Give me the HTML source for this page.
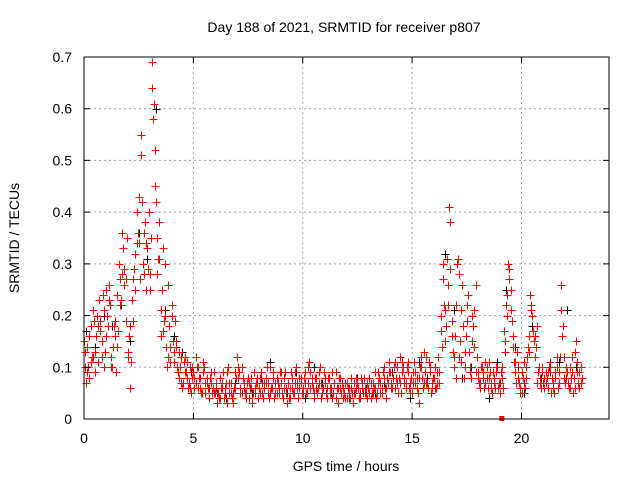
<!DOCTYPE html>
<html><head><meta charset="utf-8">
<style>
html,body{margin:0;padding:0;background:#fff;}
svg{display:block;font-family:"Liberation Sans",sans-serif;}
</style></head>
<body>
<svg id="chart" width="640" height="480" viewBox="0 0 640 480" xmlns="http://www.w3.org/2000/svg">
<rect width="640" height="480" fill="#fff"/>
<g id="grid"></g>
<g id="black"></g>
<g id="red"></g>
<rect x="84" y="57" width="525" height="362" fill="none" stroke="#000" stroke-width="1"/>
<g id="ticks"></g>
<text x="344" y="32" text-anchor="middle" font-size="14">Day 188 of 2021, SRMTID for receiver p807</text>
<text x="346" y="471" text-anchor="middle" font-size="14">GPS time / hours</text>
<text transform="translate(19,238) rotate(-90)" text-anchor="middle" font-size="14">SRMTID / TECUs</text>
</svg>
<script>
const xTicks=[0,5,10,15,20];
const yTicks=[0,0.1,0.2,0.3,0.4,0.5,0.6,0.7];
const yTickLabels=["0","0.1","0.2","0.3","0.4","0.5","0.6","0.7"];
const stepA=0.1;
const redA=[0.15,0.07,0.10,0.18,0.12,0.09,0.20,0.23,0.15,0.10,
0.25,0.18,0.22,0.10,0.16,0.14,0.30,0.23,0.33,0.27,
0.12,0.06,0.23,0.29,0.34,0.43,0.51,0.30,0.38,0.33,
0.28,0.69,0.61,0.42,0.31,0.16,0.33,0.20,0.10,0.18,
0.22,0.13,0.15,0.09,0.10,0.06,0.12,0.08,0.07,0.05,
0.09,0.12,0.06,0.08,0.05,0.10,0.07,0.04,0.09,0.06,
0.05,0.03,0.08,0.06,0.04,0.07,0.10,0.05,0.03,0.06,
0.12,0.09,0.05,0.07,0.04,0.08,0.06,0.03,0.05,0.07,
0.06,0.09,0.04,0.07,0.05,0.10,0.06,0.04,0.08,0.05,
0.07,0.04,0.09,0.03,0.06,0.08,0.05,0.10,0.04,0.07,
0.06,0.09,0.05,0.11,0.07,0.04,0.08,0.06,0.10,0.05,
0.07,0.04,0.08,0.06,0.05,0.09,0.03,0.06,0.07,0.05,
0.04,0.06,0.08,0.03,0.05,0.07,0.04,0.06,0.08,0.05,
0.06,0.04,0.07,0.09,0.05,0.08,0.06,0.10,0.04,0.07,
0.09,0.06,0.11,0.07,0.08,0.05,0.10,0.06,0.09,0.07,
0.05,0.11,0.08,0.03,0.12,0.06,0.09,0.07,0.10,0.06,
0.08,0.06,0.12,0.20,0.27,0.15,0.31,0.41,0.19,0.12,
0.08,0.31,0.15,0.26,0.10,0.19,0.13,0.08,0.18,0.26,
0.09,0.07,0.10,0.06,0.08,0.11,0.07,0.09,0.06,0.10,
0.05,0.08,0.17,0.22,0.30,0.25,0.16,0.09,0.13,0.07,
0.05,0.11,0.08,0.14,0.24,0.20,0.12,0.18,0.10,0.06,
0.07,0.09,0.06,0.11,0.08,0.05,0.10,0.07,0.26,0.18,
0.07,0.09,0.06,0.12,0.08,0.15,0.07,0.10];
const redB=[0.10,0.14,0.08,0.12,0.19,0.16,0.11,0.17,0.24,0.13,
0.20,0.26,0.12,0.18,0.09,0.17,0.22,0.28,0.26,0.35,
0.16,0.11,0.19,0.25,0.36,0.27,0.42,0.36,0.25,0.40,
0.35,0.58,0.52,0.28,0.38,0.25,0.19,0.14,0.26,0.11,
0.15,0.19,0.10,0.13,0.07,0.11,0.09,0.06,0.10,0.08,
0.06,0.10,0.08,0.05,0.11,0.07,0.06,0.08,0.05,0.09,
0.07,0.04,0.06,0.09,0.05,0.03,0.07,0.04,0.06,0.08,
0.10,0.06,0.08,0.05,0.07,0.04,0.06,0.09,0.07,0.04,
0.08,0.05,0.07,0.10,0.04,0.06,0.08,0.05,0.07,0.09,
0.05,0.08,0.06,0.04,0.09,0.05,0.07,0.06,0.08,0.05,
0.08,0.05,0.07,0.09,0.06,0.08,0.05,0.07,0.04,0.09,
0.05,0.08,0.06,0.04,0.07,0.06,0.08,0.05,0.04,0.07,
0.06,0.04,0.05,0.07,0.06,0.04,0.08,0.05,0.06,0.04,
0.08,0.05,0.06,0.04,0.07,0.05,0.09,0.06,0.08,0.11,
0.06,0.10,0.08,0.05,0.12,0.09,0.07,0.10,0.06,0.08,
0.09,0.07,0.05,0.10,0.08,0.13,0.07,0.11,0.05,0.08,
0.06,0.09,0.07,0.14,0.22,0.18,0.26,0.38,0.13,0.16,
0.30,0.12,0.21,0.08,0.16,0.24,0.10,0.15,0.21,0.12,
0.07,0.10,0.08,0.11,0.06,0.09,0.05,0.08,0.10,0.07,
0.09,0.06,0.13,0.20,0.27,0.19,0.11,0.07,0.10,0.05,
0.08,0.06,0.12,0.16,0.22,0.15,0.14,0.09,0.07,0.10,
0.06,0.08,0.10,0.05,0.07,0.09,0.06,0.12,0.16,0.08,
0.10,0.06,0.08,0.05,0.13,0.09,0.06,0.08];
const redC=[0.13,0.09,0.16,0.11,0.21,0.13,0.18,0.19,0.12,0.21,
0.16,0.23,0.10,0.14,0.19,0.24,0.27,0.36,0.29,0.19,
0.13,0.18,0.27,0.32,0.40,0.34,0.55,0.28,0.34,0.29,
0.25,0.64,0.45,0.35,0.31,0.21,0.17,0.30,0.12,0.14,
0.20,0.11,0.14,0.08,0.12,0.07,0.09,0.11,0.06,0.10,
0.08,0.07,0.10,0.06,0.09,0.05,0.08,0.06,0.07,0.05,
0.06,0.05,0.04,0.07,0.06,0.09,0.05,0.07,0.05,0.09,
0.08,0.05,0.10,0.06,0.05,0.07,0.08,0.05,0.06,0.08,
0.05,0.07,0.06,0.08,0.07,0.05,0.09,0.07,0.05,0.06,
0.09,0.06,0.05,0.07,0.04,0.06,0.09,0.07,0.06,0.08,
0.05,0.07,0.10,0.06,0.08,0.05,0.06,0.09,0.07,0.06,
0.08,0.06,0.05,0.09,0.07,0.04,0.06,0.08,0.06,0.04,
0.07,0.05,0.06,0.05,0.08,0.06,0.05,0.07,0.05,0.07,
0.05,0.07,0.05,0.06,0.09,0.07,0.05,0.08,0.06,0.09,
0.07,0.08,0.06,0.10,0.07,0.11,0.08,0.07,0.11,0.05,
0.07,0.09,0.06,0.08,0.10,0.07,0.12,0.06,0.09,0.07,
0.10,0.07,0.09,0.17,0.30,0.21,0.22,0.29,0.16,0.10,
0.22,0.28,0.11,0.18,0.13,0.22,0.09,0.20,0.14,0.09,
0.08,0.06,0.09,0.07,0.10,0.08,0.06,0.07,0.09,0.06,
0.07,0.10,0.15,0.24,0.29,0.21,0.14,0.11,0.08,0.06,
0.09,0.07,0.10,0.13,0.21,0.17,0.16,0.07,0.08,0.09,
0.08,0.07,0.09,0.10,0.06,0.08,0.12,0.09,0.21,0.12,
0.08,0.07,0.10,0.09,0.06,0.11,0.09,0.07];
const stepK=0.4;
const black=[0.17,0.14,0.20,0.18,0.22,0.15,0.36,0.31,0.60,0.21,
0.16,0.13,0.09,0.08,0.06,0.05,0.04,0.07,0.06,0.05,
0.08,0.11,0.06,0.05,0.09,0.04,0.10,0.07,0.05,0.06,
0.04,0.08,0.06,0.05,0.07,0.09,0.05,0.04,0.11,0.08,
0.06,0.32,0.21,0.08,0.10,0.07,0.04,0.11,0.25,0.14,
0.05,0.18,0.08,0.09,0.11,0.21,0.10];
const flagHours=[19.1];

const X0=84,X1=609,Y0=419,Y1=57,XMAX=24,YMAX=0.7;
const xs=v=>X0+v/XMAX*(X1-X0);
const ys=v=>Y0-v/YMAX*(Y0-Y1);
const NS="http://www.w3.org/2000/svg";
function mk(tag,parent){const e=document.createElementNS(NS,tag);parent.appendChild(e);return e;}

const grid=document.getElementById('grid'),ticks=document.getElementById('ticks');
xTicks.forEach(t=>{
  const x=xs(t);
  if(t>0){const l=mk('line',grid);
    
    
    l.setAttribute('x1',x);l.setAttribute('x2',x);l.setAttribute('y1',Y1);l.setAttribute('y2',Y0);
    l.setAttribute('stroke','#a0a0a0');l.setAttribute('stroke-dasharray','2,3');}
  const tk=mk('path',ticks);
  
  
  tk.setAttribute('d',`M${x},${Y0}v-6M${x},${Y1}v6`);tk.setAttribute('stroke','#000');
  const tx=mk('text',ticks);
  
  
  tx.setAttribute('x',x);tx.setAttribute('y',443);tx.setAttribute('text-anchor','middle');tx.setAttribute('font-size','14');
  tx.textContent=String(t);
});
yTicks.forEach((t,i)=>{
  const y=ys(t);
  if(t>0&&t<YMAX){const l=mk('line',grid);
    
    
    l.setAttribute('x1',X0);l.setAttribute('x2',X1);l.setAttribute('y1',y);l.setAttribute('y2',y);
    l.setAttribute('stroke','#a0a0a0');l.setAttribute('stroke-dasharray','2,3');}
  const tk=mk('path',ticks);
  
  
  tk.setAttribute('d',`M${X0},${y}h6M${X1},${y}h-6`);tk.setAttribute('stroke','#000');
  const tx=mk('text',ticks);
  
  
  tx.setAttribute('x',72);tx.setAttribute('y',y+5);tx.setAttribute('text-anchor','end');tx.setAttribute('font-size','14');
  tx.textContent=yTickLabels[i];
});

function plus(g,vals,step,off,color,name){
  let d='';
  vals.forEach((v,i)=>{const x=Math.round(xs(off+i*step))+0.5,y=Math.round(ys(v))+0.5;d+=`M${x-4},${y}h8M${x},${y-4}v8`;});
  const p=mk('path',g);
  
  
  p.setAttribute('d',d);p.setAttribute('stroke',color);p.setAttribute('stroke-width','1');p.setAttribute('fill','none');
}
const bg=document.getElementById('black'),rg=document.getElementById('red');
plus(bg,black,stepK,0.1,'#000','black-points');
plus(rg,redA,stepA,0.0,'#f00','red-points-a');
plus(rg,redB,stepA,0.05,'#f00','red-points-b');
plus(rg,redC,stepA,0.025,'#f00','red-points-c');
flagHours.forEach(h=>{
  const r=mk('rect',rg);
  
  
  r.setAttribute('x',xs(h)-2.5);r.setAttribute('y',Y0-3);r.setAttribute('width',5);r.setAttribute('height',5);r.setAttribute('fill','#f00');
});
</script>
</body></html>
